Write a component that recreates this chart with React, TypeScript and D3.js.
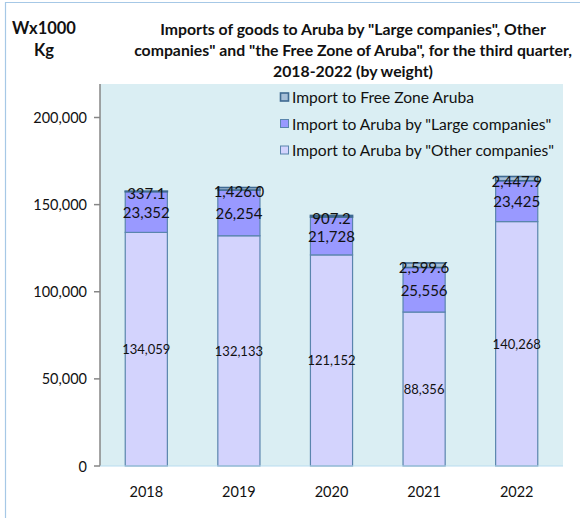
import { useEffect, useRef } from "react";
import * as d3 from "d3";

const years = ["2018", "2019", "2020", "2021", "2022"];
const otherCompanies = [134059, 132133, 121152, 88356, 140268];
const largeCompanies = [23352, 26254, 21728, 25556, 23425];
const freeZone = [337.1, 1426.0, 907.2, 2599.6, 2447.9];
const yTicks = [0, 50000, 100000, 150000, 200000];

const titleLines = [
  'Imports of goods to Aruba by "Large companies", Other',
  'companies" and "the Free Zone of Aruba", for the third quarter,',
  "2018-2022 (by weight)",
];

const series = [
  { key: "other", label: 'Import to Aruba by "Other companies"', values: otherCompanies, fill: "#d3d3fd", fmt: d3.format(",.0f"), size: 13 },
  { key: "large", label: 'Import to Aruba by "Large companies"', values: largeCompanies, fill: "#9999ff", fmt: d3.format(",.0f"), size: 15 },
  { key: "free", label: "Import to Free Zone Aruba", values: freeZone, fill: "#a6bfd8", fmt: d3.format(",.1f"), size: 15 },
];

const FONT = "Lato, 'Open Sans', sans-serif";

export default function App() {
  const ref = useRef<SVGSVGElement>(null);

  useEffect(() => {
    const width = 580;
    const height = 518;
    const svg = d3.select(ref.current);
    svg.selectAll("*").remove();
    svg.attr("width", width).attr("height", height).style("font-family", FONT);

    const m = { left: 100, right: 563, top: 84, bottom: 466 };

    // outer frame (left + top)
    svg.append("path").attr("d", `M5.5,${height} V2.5 H${width}`).attr("fill", "none").attr("stroke", "#a6c8e6").attr("stroke-width", 1.2);

    const x = d3.scaleBand().domain(years).range([m.left, m.right]).paddingInner(0.545).paddingOuter(0.2725);
    const y = d3.scaleLinear().domain([0, 200000]).range([m.bottom, 117.5]);

    svg.append("rect").attr("x", m.left).attr("y", m.top).attr("width", m.right - m.left).attr("height", m.bottom - m.top).attr("fill", "#daeef3");

    // stacked bars
    const rows = years.map((yr, i) => ({ year: yr, other: otherCompanies[i], large: largeCompanies[i], free: freeZone[i] }));
    const stack = d3.stack<any>().keys(series.map((s) => s.key))(rows);

    stack.forEach((layer, li) => {
      const s = series[li];
      svg
        .append("g")
        .selectAll("rect")
        .data(layer)
        .join("rect")
        .attr("x", (d: any) => x(d.data.year)!)
        .attr("y", (d) => y(d[1]))
        .attr("width", x.bandwidth())
        .attr("height", (d) => y(d[0]) - y(d[1]))
        .attr("fill", s.fill)
        .attr("stroke", li === 2 ? "#3f6a92" : "#5a85ad")
        .attr("stroke-width", li === 2 ? 1.6 : 1.2);
    });

    stack.forEach((layer, li) => {
      const s = series[li];
      svg
        .append("g")
        .selectAll("text")
        .data(layer)
        .join("text")
        .attr("x", (d: any) => x(d.data.year)! + x.bandwidth() / 2)
        .attr("y", (d) => (y(d[0]) + y(d[1])) / 2 + (li === 2 ? 2 : 0))
        .attr("text-anchor", "middle")
        .attr("dominant-baseline", "central")
        .attr("font-size", s.size)
        .attr("fill", "#111")
        .text((d, i) => s.fmt(s.values[i]));
    });

    // y axis
    const yAxis = svg.append("g").attr("transform", `translate(${m.left},0)`);
    yAxis.append("line").attr("y1", m.top).attr("y2", m.bottom).attr("stroke", "#868686").attr("stroke-width", 1.5);
    yAxis
      .selectAll("line.tick")
      .data(yTicks)
      .join("line")
      .attr("class", "tick")
      .attr("x1", -6)
      .attr("x2", 0)
      .attr("y1", (d) => y(d))
      .attr("y2", (d) => y(d))
      .attr("stroke", "#868686")
      .attr("stroke-width", 1.5);
    yAxis
      .selectAll("text")
      .data(yTicks)
      .join("text")
      .attr("x", -13)
      .attr("y", (d) => y(d))
      .attr("dominant-baseline", "central")
      .attr("text-anchor", "end")
      .attr("font-size", 14.5)
      .attr("fill", "#111")
      .text((d) => d3.format(",")(d));

    // baseline
    svg.append("line").attr("x1", m.left).attr("x2", m.right).attr("y1", m.bottom).attr("y2", m.bottom).attr("stroke", "#b7dcf0").attr("stroke-width", 1.2);

    // x labels
    svg
      .append("g")
      .selectAll("text")
      .data(years)
      .join("text")
      .attr("x", (d) => x(d)! + x.bandwidth() / 2)
      .attr("y", 491)
      .attr("text-anchor", "middle")
      .attr("dominant-baseline", "central")
      .attr("font-size", 14.5)
      .attr("fill", "#111")
      .text((d) => d);

    // legend
    const legend = svg.append("g");
    [...series].reverse().forEach((s, i) => {
      const ly = 97 + i * 26.5;
      legend.append("rect").attr("x", 280.5).attr("y", ly - 4).attr("width", 8).attr("height", 8).attr("fill", s.fill).attr("stroke", s.key === "free" ? "#3f6a92" : "#5a85ad").attr("stroke-width", s.key === "free" ? 1.6 : 1);
      legend.append("text").attr("x", 292).attr("y", ly).attr("dominant-baseline", "central").attr("font-size", 15.6).attr("fill", "#111").text(s.label);
    });

    // title
    svg
      .append("g")
      .selectAll("text")
      .data(titleLines)
      .join("text")
      .attr("x", 353)
      .attr("y", (_, i) => 28 + i * 21)
      .attr("text-anchor", "middle")
      .attr("dominant-baseline", "central")
      .attr("font-size", 15.8)
      .attr("font-weight", "bold")
      .attr("fill", "#111")
      .text((d) => d);

    svg.append("text").attr("x", 44).attr("y", 28).attr("text-anchor", "middle").attr("dominant-baseline", "central").attr("font-size", 16.5).attr("font-weight", "bold").attr("fill", "#111").text("Wx1000");
    svg.append("text").attr("x", 44).attr("y", 50).attr("text-anchor", "middle").attr("dominant-baseline", "central").attr("font-size", 16.5).attr("font-weight", "bold").attr("fill", "#111").text("Kg");
  }, []);

  return <svg ref={ref} style={{ display: "block", position: "absolute", left: 0, top: 0 }} />;
}
